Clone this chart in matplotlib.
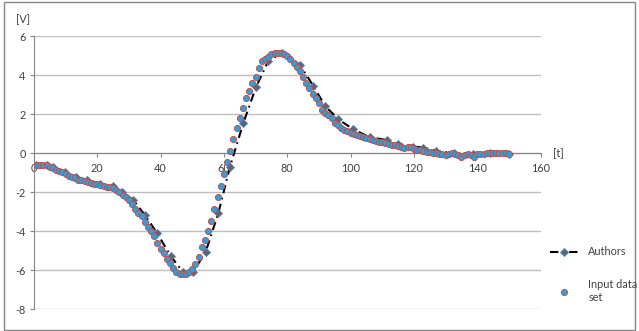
import numpy as np
import matplotlib
matplotlib.use("Agg")
import matplotlib.pyplot as plt
from matplotlib.patches import Rectangle

plt.rcParams['font.family'] = ['Lato', 'DejaVu Sans']
plt.rcParams['axes.unicode_minus'] = False

# input data set, one sample per time step
input_t = list(range(1, 151))
input_v = [
    -0.62, -0.58, -0.60, -0.60, -0.68, -0.76, -0.86, -0.93, -0.98, -1.06,
    -1.18, -1.20, -1.25, -1.36, -1.38, -1.43, -1.48, -1.52, -1.56, -1.60,
    -1.65, -1.69, -1.72, -1.75, -1.80, -1.87, -2.00, -2.12, -2.24, -2.38,
    -2.62, -2.85, -3.04, -3.22, -3.52, -3.76, -3.98, -4.24, -4.58, -4.88,
    -5.12, -5.40, -5.64, -5.88, -6.10, -6.20, -6.20, -6.20, -6.08, -5.92,
    -5.68, -5.30, -4.82, -4.42, -3.98, -3.48, -2.86, -2.22, -1.68, -1.08,
    -0.43, 0.13, 0.72, 1.28, 1.80, 2.30, 2.82, 3.20, 3.58, 3.93,
    4.36, 4.70, 4.82, 4.95, 5.06, 5.12, 5.15, 5.14, 5.08, 4.96,
    4.82, 4.62, 4.44, 4.22, 3.90, 3.62, 3.32, 3.04, 2.82, 2.58,
    2.24, 2.06, 1.94, 1.78, 1.56, 1.44, 1.30, 1.20, 1.12, 1.06,
    1.00, 0.92, 0.87, 0.82, 0.78, 0.72, 0.66, 0.62, 0.60, 0.56,
    0.52, 0.48, 0.43, 0.41, 0.36, 0.30, 0.26, 0.30, 0.34, 0.22,
    0.17, 0.16, 0.12, 0.08, 0.05, 0.03, 0.00, -0.02, -0.05, -0.09,
    -0.03, 0.00, -0.03, -0.08, -0.17, -0.08, -0.05, -0.09, -0.20, -0.06,
    -0.04, -0.03, 0.00, 0.03, 0.02, 0.00, 0.03, 0.02, 0.00, -0.05,
]

# authors' model, sparser points
authors_t = [0.6, 4, 6, 9.8, 13.3, 16.8, 20.8, 24.8, 27.7, 31.4, 35, 38.9,
             43.2, 47, 50.3, 54.2, 58.2, 61.9, 66.1, 70.1, 74, 78.2, 84,
             88.2, 91.9, 96.1, 100.8, 106, 111.4, 115, 119.8, 123, 127,
             132.6, 138.8, 144, 150]
authors_v = [-0.60, -0.60, -0.72, -0.96, -1.20, -1.37, -1.55, -1.70, -1.97,
             -2.40, -3.16, -4.10, -5.27, -6.07, -6.07, -5.05, -3.08, -0.69,
             1.54, 3.38, 4.73, 5.13, 4.53, 3.45, 2.43, 1.74, 1.23, 0.82,
             0.68, 0.48, 0.34, 0.29, 0.12, 0.00, -0.02, 0.00, -0.05]

x_ticks = [0, 20, 40, 60, 80, 100, 120, 140, 160]
y_ticks = [-8, -6, -4, -2, 0, 2, 4, 6]

fig = plt.figure(figsize=(6.39, 3.31), dpi=100)
ax = fig.add_axes([0.0532, 0.065, 0.7928, 0.826])

txt = '#404040'
ax.plot(authors_t, authors_v, color='black', lw=1.5, dashes=(4, 2.2, 0.8, 2.2),
        marker='D', ms=4, mfc='#5f6672', mec='#4f81bd', mew=0.6,
        label='Authors', zorder=3)
ax.plot(input_t, input_v, linestyle='none', marker='o', ms=4.4,
        mfc='#2ea0dc', mec='#c0504d', mew=0.7, label='Input data\nset', zorder=4)

ax.set_xlim(0, 160)
ax.set_ylim(-8, 6)
ax.set_xticks(x_ticks)
ax.set_yticks(y_ticks)
ax.set_xticklabels([str(v) for v in x_ticks])
ax.set_yticklabels([str(v) for v in y_ticks])

ax.yaxis.grid(True, color='#bfbfbf', lw=1)
ax.set_axisbelow(True)
for s in ['top', 'right']:
    ax.spines[s].set_visible(False)
ax.spines['bottom'].set_position(('data', 0))
ax.spines['bottom'].set_color('#868686')
ax.spines['left'].set_color('#868686')
ax.tick_params(axis='both', colors='#868686', labelcolor=txt, labelsize=7.8,
               length=3, width=0.8, direction='out')
ax.tick_params(axis='x', pad=4)
ax.tick_params(axis='y', pad=3)

ax.text(-0.035, 1.04, '[V]', transform=ax.transAxes, fontsize=7.8, color=txt,
        ha='left', va='bottom')
ax.text(1.025, 0.571, '[t]', transform=ax.transAxes, fontsize=7.8, color=txt,
        ha='left', va='center')

h, l = ax.get_legend_handles_labels()
leg = fig.legend(h, l, loc='upper left', bbox_to_anchor=(0.846, 0.285),
                 frameon=False, fontsize=7.8, handlelength=2.6, numpoints=1,
                 labelspacing=2.0, handletextpad=0.9)
for t in leg.get_texts():
    t.set_color(txt)

fig.patches.append(Rectangle((0.006, 0.003), 0.988, 0.99, transform=fig.transFigure,
                             fill=False, edgecolor='#868686', lw=1))

fig.savefig('out.png', dpi=100)
